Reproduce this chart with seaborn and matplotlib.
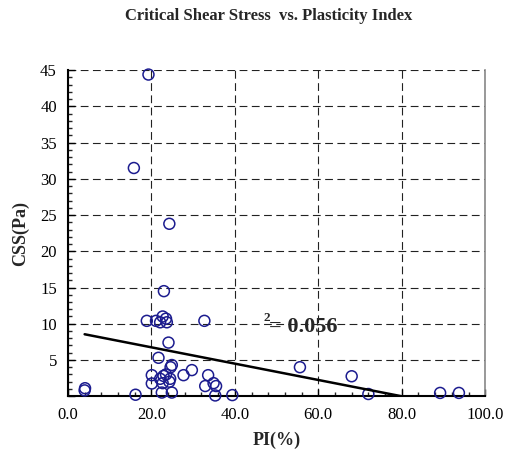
import numpy as np
import pandas as pd
import matplotlib
matplotlib.use('Agg')
import matplotlib.pyplot as plt
from matplotlib.ticker import MultipleLocator, FormatStrFormatter
import seaborn as sns

# 数据: 塑性指数 PI(%) 与 临界剪应力 CSS(Pa)
pi_values = [4.0, 4.1, 16.2, 19.3, 15.8, 24.3, 23.0, 18.9, 21.1, 22.1, 22.7,
             23.5, 23.7, 32.7, 24.1, 21.7, 24.9, 24.6, 29.7, 27.7, 20.1,
             22.9, 23.5, 22.1, 24.5, 24.3, 20.1, 22.7, 22.5, 24.9, 33.6,
             32.9, 34.9, 35.5, 35.3, 39.4, 55.6, 68.0, 72.0, 89.2, 93.7]
css_values = [0.8, 1.1, 0.2, 44.4, 31.5, 23.8, 14.5, 10.4, 10.4, 10.2, 11.0,
              10.7, 10.2, 10.4, 7.4, 5.3, 4.3, 4.0, 3.6, 2.9, 2.9,
              2.8, 3.0, 2.4, 2.4, 2.0, 1.75, 1.8, 0.5, 0.5, 2.9,
              1.4, 1.8, 1.4, 0.1, 0.15, 4.0, 2.75, 0.3, 0.45, 0.45]

# 趋势线参数
trend_intercept = 9.0
trend_slope = -0.1127
r2_label = '= 0.056'

df = pd.DataFrame({'PI': pi_values, 'CSS': css_values})

sns.set_theme(style='white')
plt.rcParams['font.family'] = ['Liberation Serif', 'DejaVu Serif']
plt.rcParams['xtick.direction'] = 'in'
plt.rcParams['ytick.direction'] = 'in'

fig = plt.figure(figsize=(5.07, 4.65), dpi=100)
ax = fig.add_axes([0.134, 0.148, 0.823, 0.701])

# 网格
ax.set_axisbelow(True)
ax.grid(True, which='major', linestyle=(0, (7, 4)), color='#222222', linewidth=0.8)

# 散点
sns.scatterplot(data=df, x='PI', y='CSS', ax=ax, marker='o', s=62,
                facecolor='none', edgecolor='#1c1c8f', linewidth=1.1, zorder=3,
                clip_on=False)

# 趋势线
trend_x = np.array([df['PI'].min(), df['PI'].max()])
ax.plot(trend_x, trend_intercept + trend_slope * trend_x, color='black', linewidth=1.8, zorder=4)

ax.set_xlim(0, 100)
ax.set_ylim(0, 45)
ax.xaxis.set_major_locator(MultipleLocator(20))
ax.xaxis.set_minor_locator(MultipleLocator(4))
ax.xaxis.set_major_formatter(FormatStrFormatter('%.1f'))
ax.yaxis.set_major_locator(MultipleLocator(5))
ax.yaxis.set_minor_locator(MultipleLocator(1))
ax.yaxis.set_major_formatter(lambda v, p: '' if v == 0 else f'{int(v)}')
ax.tick_params(which='major', length=5, width=1, labelsize=12, colors='black', pad=8)
ax.tick_params(which='minor', length=3, width=1)
ax.tick_params(axis='x', which='both', bottom=True)
ax.tick_params(axis='y', which='both', left=True)

for side in ['left', 'bottom']:
    ax.spines[side].set_color('black')
    ax.spines[side].set_linewidth(1.5)
ax.spines['top'].set_visible(False)
ax.spines['right'].set_color('#888888')
ax.spines['right'].set_linewidth(1.2)

# R² 标注
ax.text(46.9, 10.8, '2', fontsize=9.5, fontweight='bold', ha='left', va='center')
ax.text(48.2, 9.5, r2_label, fontsize=16, fontweight='bold', ha='left', va='center')

ax.set_xlabel('PI(%)', fontsize=13, fontweight='bold', labelpad=6)
ax.set_ylabel('CSS(Pa)', fontsize=13, fontweight='bold', labelpad=8)
fig.suptitle('Critical Shear Stress  vs. Plasticity Index', fontsize=12,
             fontweight='bold', x=0.53, y=0.982)

fig.savefig('out.png', dpi=100)
